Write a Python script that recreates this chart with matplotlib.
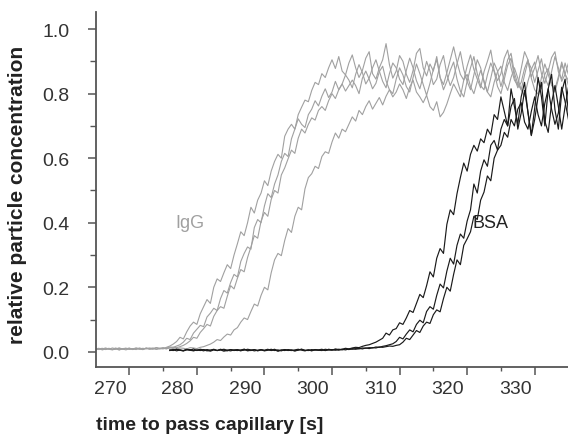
import numpy as np
import matplotlib
matplotlib.use('Agg')
import matplotlib.pyplot as plt
from matplotlib.ticker import MultipleLocator
import matplotlib.transforms as mtransforms

plt.rcParams['font.family'] = ['Liberation Sans', 'DejaVu Sans']

# ---------------- data ----------------
STEP = 0.5           # sampling interval [s]
igg_start = 265.0    # first time of IgG traces
bsa_start = 276.0    # first time of BSA traces

igg_a = [
    .008, .010, .006, .009, .011, .007, .008, .012, .009, .006,
    .010, .008, .011, .009, .007, .012, .010, .008, .013, .011,
    .009, .014, .018,
    .024, .032, .045, .040, .062, .080, .092, .085, .118, .140,
    .162, .150, .200, .226, .218, .245, .270, .258, .300, .335,
    .372, .360, .400, .448, .430, .470, .492, .530, .515, .560,
    .590, .612, .600, .668, .690, .705, .690, .735, .758, .780,
    .775, .810, .835, .828, .862, .850, .880, .905, .878, .915,
    .870, .858, .895, .920, .880, .850, .872, .910, .930, .862,
    .845, .880, .905, .955, .890, .848, .870, .918, .900, .860,
    .835, .872, .925, .940, .880, .855, .892, .870, .915, .850,
    .828, .865, .905, .945, .898, .860, .842, .885, .920, .875,
    .845, .818, .868, .900, .935, .872, .840, .862, .910, .935,
    .880, .842, .825, .878, .930, .905, .852, .880, .918, .862,
    .832, .870, .912, .930, .868, .845, .895, .858,
]
igg_b = [
    .006, .009, .011, .007, .010, .008, .012, .006, .009, .011,
    .008, .010, .007, .012, .009, .011, .008, .010, .013, .009,
    .011, .012, .015, .014, .018,
    .022, .030, .042, .038, .058, .070, .082, .078, .108, .120,
    .135, .128, .165, .190, .182, .215, .240, .232, .280, .305,
    .325, .318, .385, .410, .400, .452, .490, .478, .520, .548,
    .590, .615, .605, .660, .690, .722, .705, .695, .735, .752,
    .778, .762, .792, .815, .788, .805, .838, .812, .830, .858,
    .842, .818, .860, .890, .865, .830, .848, .880, .905, .870,
    .838, .818, .862, .895, .880, .845, .828, .872, .910, .880,
    .840, .815, .855, .900, .870, .828, .845, .890, .918, .860,
    .825, .850, .892, .930, .875, .838, .812, .858, .905, .880,
    .835, .805, .848, .895, .870, .822, .860, .905, .925, .865,
    .830, .812, .858, .900, .878, .835, .872, .908, .850, .825,
    .868, .915, .880, .838, .860, .895,
]
igg_c = [
    .010, .007, .009, .012, .008, .006, .010, .011, .008, .009,
    .012, .007, .010, .008, .011, .009, .012, .010, .008, .011,
    .013, .010, .012, .014, .013, .016, .020,
    .026, .034, .045, .042, .060, .072, .085, .080, .110, .128,
    .140, .135, .172, .205, .195, .228, .255, .248, .292, .325,
    .360, .352, .405, .432, .420, .472, .500, .492, .548, .570,
    .598, .625, .615, .662, .690, .678, .705, .725, .718, .748,
    .760, .748, .778, .800, .785, .812, .830, .808, .825, .842,
    .825, .800, .848, .870, .845, .815, .832, .868, .885, .840,
    .812, .800, .845, .880, .858, .822, .805, .850, .892, .862,
    .828, .795, .832, .875, .905, .850, .812, .838, .872, .898,
    .845, .808, .790, .838, .880, .915, .862, .825, .812, .858,
    .895, .868, .822, .800, .845, .888, .910, .852, .818, .835,
    .878, .905, .848, .812, .798, .850, .892, .860, .825, .815,
    .852, .898, .860, .840,
]
igg_d = [
    .009, .011, .007, .010, .008, .012, .009, .006, .010, .011,
    .008, .009, .012, .010, .007, .011, .009, .012, .008, .010,
    .011, .009, .013, .010, .008, .012, .011, .009, .013, .012,
    .010, .014, .016, .020,
    .024, .030, .038, .035, .046, .055, .052, .068, .075, .092,
    .105, .100, .125, .148, .142, .175, .200, .192, .245, .285,
    .305, .298, .345, .382, .370, .420, .448, .440, .505, .540,
    .552, .575, .568, .605, .620, .615, .650, .678, .662, .690,
    .682, .705, .728, .715, .748, .735, .760, .778, .752, .770,
    .788, .765, .792, .812, .790, .805, .830, .812, .785, .820,
    .842, .805, .790, .772, .795, .760, .748, .775, .728, .742,
    .768, .800, .830, .810, .790, .842, .860, .822, .800, .838,
    .872, .840, .805, .790, .835, .868, .885, .835, .810, .850,
    .880, .848, .812, .792, .838, .875, .898, .845, .815, .860,
    .878, .832, .805, .845, .890, .862, .825,
]

bsa_e = [
    .006, .004, .008, .005, .003, .007, .005, .009, .004, .006,
    .003, .007, .005, .008, .004, .006, .002, .005, .007, .004,
    .006, .003, .008, .005, .004, .007, .003, .006, .005, .008,
    .004, .006, .002, .005, .007, .004, .006, .003, .005, .008,
    .004, .006, .003, .007, .005, .004, .008, .006, .005, .009,
    .007, .008, .011, .009, .012, .014, .013, .017, .020, .022,
    .026, .030,
    .036, .042, .058, .052, .068, .072, .090, .085, .105, .128,
    .122, .150, .178, .168, .205, .248, .232, .290, .320, .305,
    .395, .440, .425, .490, .540, .585, .560, .612, .640, .622,
    .660, .648, .690, .672, .735, .720, .790, .745, .700, .815,
    .760, .705, .790, .835, .740, .672, .755, .850, .790, .700,
    .815, .860, .750, .690, .805, .845, .740,
]
bsa_f = [
    .005, .007, .003, .006, .004, .008, .005, .003, .006, .004,
    .007, .005, .002, .006, .004, .008, .005, .003, .007, .005,
    .004, .006, .008, .003, .005, .007, .004, .006, .003, .005,
    .008, .004, .006, .003, .007, .005, .004, .006, .008, .005,
    .003, .006, .004, .007, .005, .006, .004, .008, .006, .007,
    .005, .008, .006, .009, .008, .010, .009, .012, .011, .013,
    .012, .015, .014, .017, .019, .022,
    .025, .032, .045, .040, .055, .068, .062, .085, .098, .090,
    .125, .140, .132, .175, .210, .198, .250, .290, .272, .330,
    .365, .352, .405, .440, .520, .492, .560, .595, .575, .640,
    .655, .625, .690, .720, .700, .760, .785, .690, .740, .810,
    .745, .670, .720, .790, .835, .715, .680, .770, .825, .760,
    .690, .760, .820,
]
bsa_g = [
    .004, .006, .008, .005, .003, .006, .007, .004, .005, .008,
    .006, .003, .005, .007, .004, .006, .008, .005, .003, .006,
    .007, .004, .005, .008, .006, .003, .005, .007, .004, .006,
    .005, .008, .003, .006, .004, .007, .005, .003, .006, .008,
    .005, .004, .007, .005, .006, .008, .004, .006, .007, .005,
    .008, .006, .009, .007, .010, .008, .011, .009, .012, .010,
    .013, .012, .015, .014, .016, .018, .017, .020,
    .022, .030, .042, .038, .052, .066, .060, .080, .092, .088,
    .115, .130, .124, .165, .200, .188, .240, .285, .270, .330,
    .350, .372, .420, .410, .470, .495, .545, .530, .600, .625,
    .640, .680, .665, .720, .700, .752, .772, .712, .690, .745,
    .790, .735, .700, .770, .815, .752, .705, .740, .820, .775,
    .720,
]

igg_traces = [igg_a, igg_b, igg_c, igg_d]
bsa_traces = [bsa_e, bsa_f, bsa_g]

x_major = [270, 280, 290, 300, 310, 320, 330]
y_major = [0.0, 0.2, 0.4, 0.6, 0.8, 1.0]
x_label = 'time to pass capillary [s]'
y_label = 'relative particle concentration'

# ---------------- figure ----------------
W, H = 568, 435
fig = plt.figure(figsize=(W / 100, H / 100), dpi=100)
ax = fig.add_axes([96 / W, 1 - 368 / H, 1 - 96 / W, (368 - 13) / H])

for y in igg_traces:
    ax.plot(igg_start + STEP * np.arange(len(y)), y, color='#a0a0a0', lw=0.8)
for y in bsa_traces:
    ax.plot(bsa_start + STEP * np.arange(len(y)), y, color='#1a1a1a', lw=0.85)

ax.set_xlim(265.07, 334.93)
ax.set_ylim(-0.047, 1.053)

for s in ['top', 'right']:
    ax.spines[s].set_visible(False)
for s in ['left', 'bottom']:
    ax.spines[s].set_color('#555555')
    ax.spines[s].set_linewidth(1.3)

ax.set_xticks(x_major)
ax.set_yticks(y_major)
ax.set_yticklabels([f'{v:.1f}' for v in y_major])
ax.xaxis.set_minor_locator(MultipleLocator(5))
ax.yaxis.set_minor_locator(MultipleLocator(0.1))
ax.tick_params(axis='x', which='major', direction='out', length=5.5, width=1.1,
               color='#555555', labelsize=14, labelcolor='#333333', pad=4)
ax.tick_params(axis='x', which='minor', direction='out', length=3, width=1.0,
               color='#555555')
ax.tick_params(axis='y', which='major', direction='out', length=6, width=1.1,
               color='#555555', labelsize=14, labelcolor='#333333', pad=13)
ax.tick_params(axis='y', which='minor', direction='out', length=4, width=1.0,
               color='#555555')

shift = mtransforms.ScaledTranslation(-19.3 / 100, 0, fig.dpi_scale_trans)
for lab in ax.get_xticklabels():
    lab.set_transform(lab.get_transform() + shift)

ax.text(276.76, 0.40, 'IgG', color='#a0a0a0', fontsize=13, ha='left', va='center')
ax.text(320.85, 0.40, 'BSA', color='#222222', fontsize=13, ha='left', va='center')

fig.text(18 / W, 1 - 195 / H, y_label, rotation=90, ha='center', va='center',
         fontsize=15, fontweight='bold', color='#222222')
fig.text(210 / W, 1 - 430 / H, x_label, ha='center', va='baseline',
         fontsize=14, fontweight='bold', color='#222222')

fig.savefig('out.png', dpi=100)
